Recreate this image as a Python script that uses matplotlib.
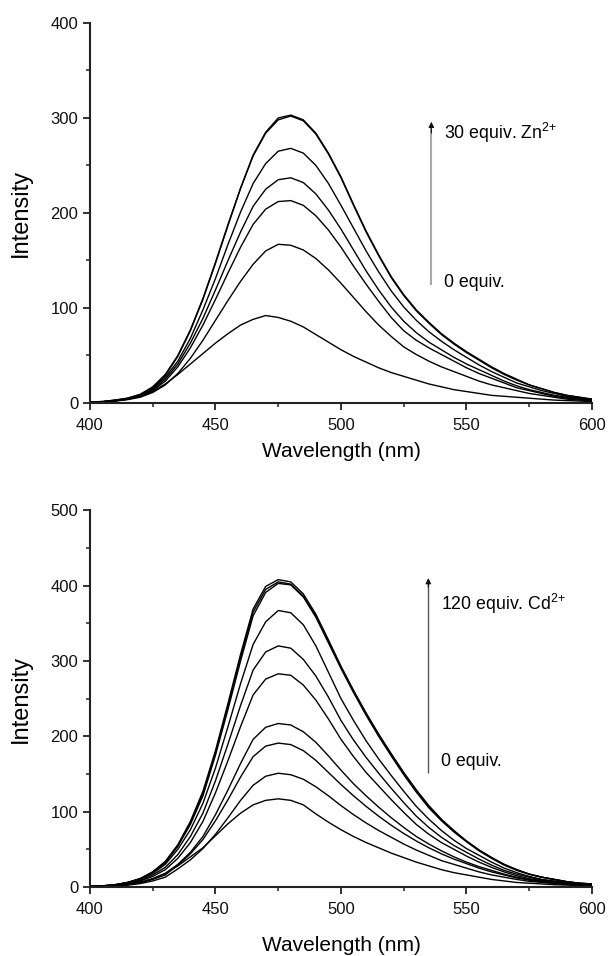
import numpy as np
import matplotlib
matplotlib.use("Agg")
import matplotlib.pyplot as plt

plt.rcParams['font.family'] = ['Liberation Sans', 'DejaVu Sans']
plt.rcParams['mathtext.fontset'] = 'custom'
plt.rcParams['mathtext.rm'] = 'Liberation Sans'
plt.rcParams['mathtext.it'] = 'Liberation Sans:italic'
plt.rcParams['mathtext.bf'] = 'Liberation Sans:bold'

wavelength = list(range(400, 601, 5))

# ---- Top panel: Zn2+ titration ----
zn_0   = [0.5,1,2,4,7,12,20,30,41,52,63,73,82,88,92,90,86,80,72,64,56,49,43,37,32,28,24,20,17,14,12,10,8,7,6,5,4,3,2.5,2,1.5]
zn_a   = [0.7,1,2,3.5,6,11,19,31,47,66,87,108,128,146,160,167,166,161,152,140,126,111,96,82,70,59,51,44,38,33,28,23,19,16,13,10,8,6,4,3,2.5]
zn_b   = [0.8,1.2,2.3,4,7,13,23,38,58,82,109,137,164,188,204,212,213,208,197,182,164,144,125,107,90,76,66,58,51,44,37,31,26,21,16,13,10,7,5,4,3]
zn_c   = [0.8,1.2,2.4,4,7.5,14,25,41,63,89,119,150,180,207,225,235,237,232,220,203,183,161,139,119,101,86,74,64,56,48,41,35,29,23,18,14,11,8,6,4.5,3]
zn_d   = [0.9,1.3,2.7,4.4,8,15,27,44,68,98,131,167,201,231,252,265,268,263,250,231,208,184,160,138,118,101,87,75,65,56,48,40,33,27,21,17,13,10,7,5,3.5]
zn_e   = [1,1.5,3,5,9,17,30,50,77,110,148,188,226,260,284,298,302,297,283,262,237,208,180,155,132,113,97,84,72,62,53,45,37,30,24,19,15,11,8,6,4]
zn_f   = [1,1.5,3,5,9,16,29,49,76,109,147,187,226,261,285,300,303,298,284,263,238,209,181,156,133,114,98,85,73,63,54,46,38,31,25,19,15,11,8,6,4]
zn_series = [zn_0, zn_a, zn_b, zn_c, zn_d, zn_e, zn_f]

# ---- Bottom panel: Cd2+ titration ----
cd_0 = [0.5,0.8,1.5,3,6,11,18,28,40,52,68,84,98,109,115,117,115,109,97,86,76,67,59,52,45,39,33,28,23,19,16,13,10,8,6,5,4,3,2.5,2,1.5]
cd_a = [0.5,0.7,1.3,2.5,4.5,8,13,24,36,51,70,92,115,135,147,151,149,143,133,121,108,96,85,75,66,57,49,42,35,30,25,20,16,13,10,7.5,6,4.5,3.5,2.5,2]
cd_b = [0.5,0.8,1.5,3,5.4,10,16,29,44,63,88,116,146,173,187,191,189,181,168,152,136,121,107,94,82,71,61,52,44,37,31,25,20,16,12,9,7,5,4,3,2]
cd_c = [0.6,0.9,1.7,3.3,6,11,18,30,46,67,96,129,164,196,212,217,215,206,192,174,155,137,121,106,92,79,67,57,48,40,33,27,22,17,13,10,7.5,5.5,4,3,2.3]
cd_d = [0.7,1.1,2.1,4.2,7.7,14,23,38,59,87,125,168,213,255,276,283,281,268,248,223,196,173,152,134,116,99,83,70,59,50,41,33,26,20,15,11,8.5,6.5,5,3.5,2.7]
cd_e = [0.8,1.2,2.4,4.7,8.7,16,26,43,67,98,141,190,241,288,312,320,317,302,280,252,221,195,172,151,131,112,94,79,66,55,46,37,29,22,17,13,9.5,7,5.5,4,3]
cd_f = [0.9,1.4,2.7,5.4,10,18,30,50,76,111,158,213,270,322,352,367,364,348,320,285,250,221,194,170,148,127,107,90,75,62,51,42,33,25,19,14,10,8,6,4.5,3.5]
cd_g = [1,1.5,3,6,11,19,32,54,83,121,175,236,300,360,391,403,401,385,358,324,290,258,228,200,174,149,126,105,88,73,60,48,38,29,22,17,13,10,7,5,4]
cd_h = [1,1.5,3,6,11,20,33,55,85,124,178,240,305,365,395,405,402,386,360,326,292,260,230,202,176,151,128,107,89,74,61,49,39,30,23,17,13,10,7,5,4]
cd_i = [1,1.5,3,6,11,20,34,56,87,127,181,244,309,369,399,408,405,389,362,328,293,261,231,203,177,152,129,108,90,75,61,49,39,30,23,17,13,10,7,5,4]
cd_series = [cd_0, cd_a, cd_b, cd_c, cd_d, cd_e, cd_f, cd_g, cd_h, cd_i]

x_ticks = [400, 450, 500, 550, 600]
top_yticks = [0, 100, 200, 300, 400]
bot_yticks = [0, 100, 200, 300, 400, 500]

fig = plt.figure(figsize=(6.1, 9.56), dpi=100)
ax1 = fig.add_axes([0.1475, 0.5785, 0.823, 0.3975])
ax2 = fig.add_axes([0.1475, 0.0722, 0.823, 0.394])

def style(ax, ymax, yticks, xpad):
    ax.set_xlim(400, 600)
    ax.set_ylim(0, ymax)
    ax.set_xticks(x_ticks)
    ax.set_xticks(range(400, 601, 25), minor=True)
    ax.set_yticks(yticks)
    ax.set_yticks(range(0, ymax + 1, 50), minor=True)
    for s in ['top', 'right']:
        ax.spines[s].set_visible(False)
    for s in ['left', 'bottom']:
        ax.spines[s].set_linewidth(1.5)
        ax.spines[s].set_color('#222222')
    ax.tick_params(which='major', direction='out', length=5, width=1.3, labelsize=12,
                   colors='#222222', labelcolor='#111111')
    ax.tick_params(axis='x', which='major', pad=5.5)
    ax.tick_params(which='minor', direction='out', length=3, width=1.1, colors='#222222')
    ax.set_xlabel('Wavelength (nm)', fontsize=15, labelpad=xpad)
    ax.set_ylabel('Intensity', fontsize=17, labelpad=13)

def arrow(ax, x, y0, y1, shaft_color, lw):
    ax.plot([x, x], [y0, y1 - 6], color=shaft_color, lw=lw, solid_capstyle='butt')
    ax.annotate('', xy=(x, y1), xytext=(x, y1 - 12),
                arrowprops=dict(arrowstyle='-|>', color='#111111', lw=0.8,
                                mutation_scale=8, shrinkA=0, shrinkB=0))

for s in zn_series:
    ax1.plot(wavelength, s, color='black', lw=1.0)
style(ax1, 400, top_yticks, 7)
arrow(ax1, 536, 124, 296, '#aaaaaa', 1.5)
ax1.text(541, 284, r'30 equiv. Zn$^{2{+}}$', fontsize=12.8, va='center', ha='left')
ax1.text(541, 127, '0 equiv.', fontsize=12.8, va='center', ha='left')

for s in cd_series:
    ax2.plot(wavelength, s, color='black', lw=1.0)
style(ax2, 500, bot_yticks, 14)
arrow(ax2, 534.8, 151, 410, '#555555', 1.0)
ax2.text(540, 376, r'120 equiv. Cd$^{2{+}}$', fontsize=12.8, va='center', ha='left')
ax2.text(540, 166, '0 equiv.', fontsize=12.8, va='center', ha='left')

fig.savefig('out.png', dpi=100)
